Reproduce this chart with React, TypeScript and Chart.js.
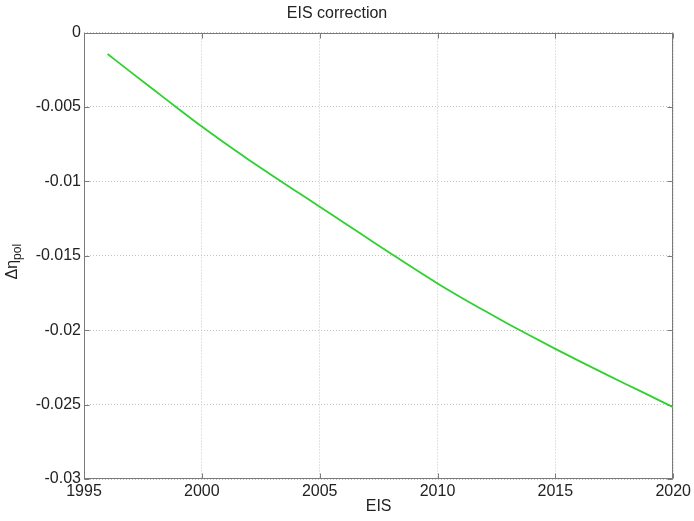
import { useEffect, useRef } from 'react';
import { Chart, registerables } from 'chart.js';

Chart.register(...registerables);

const chartTitle = 'EIS correction';
const xAxisTitle = 'EIS';
const yAxisMain = 'Δη';
const yAxisSub = 'pol';

const years = [
  1996, 1997, 1998, 1999, 2000, 2001, 2002, 2003, 2004, 2005, 2006, 2007, 2008,
  2009, 2010, 2011, 2012, 2013, 2014, 2015, 2016, 2017, 2018, 2019, 2020,
];
const deltaEtaPol = [
  -0.00144, -0.00268, -0.00390, -0.00512, -0.00632, -0.00746, -0.00856, -0.00963,
  -0.01067, -0.01170, -0.01275, -0.01379, -0.01483, -0.01586, -0.01686, -0.0178,
  -0.0187, -0.01958, -0.02043, -0.02126, -0.02206, -0.02285, -0.02363, -0.0244,
  -0.02518,
];

const xTicks = [1995, 2000, 2005, 2010, 2015, 2020];
const xTickLabels = ['1995', '2000', '2005', '2010', '2015', '2020'];
const yTicks = [-0.03, -0.025, -0.02, -0.015, -0.01, -0.005, 0];
const yTickLabels = ['-0.03', '-0.025', '-0.02', '-0.015', '-0.01', '-0.005', '0'];

const FONT = '"Liberation Sans", Arial, Helvetica, sans-serif';
const TEXT = '#222222';

const boxPlugin = {
  id: 'matlabBox',
  beforeDatasetsDraw(chart: any) {
    const { ctx, chartArea, scales } = chart;
    const { left, right, top, bottom } = chartArea;
    const L = Math.round(left) + 0.5;
    const R = Math.round(right) - 0.5;
    const T = Math.round(top) + 0.5;
    const B = Math.round(bottom) - 0.5;
    ctx.save();
    ctx.strokeStyle = '#7a7a7a';
    ctx.lineWidth = 1;
    ctx.setLineDash([]);
    ctx.strokeRect(L, T, R - L, B - T);
    const len = 5;
    ctx.beginPath();
    for (const v of xTicks) {
      const px = Math.round(scales.x.getPixelForValue(v)) + 0.5;
      ctx.moveTo(px, B);
      ctx.lineTo(px, B - len);
      ctx.moveTo(px, T);
      ctx.lineTo(px, T + len);
    }
    for (const v of yTicks) {
      const py = Math.round(scales.y.getPixelForValue(v)) + 0.5;
      ctx.moveTo(L, py);
      ctx.lineTo(L + len, py);
      ctx.moveTo(R, py);
      ctx.lineTo(R - len, py);
    }
    ctx.stroke();
    ctx.restore();
  },
};

const yLabelPlugin = {
  id: 'yLabelSub',
  afterDraw(chart: any) {
    const { ctx, chartArea } = chart;
    const cy = (chartArea.top + chartArea.bottom) / 2 + 6;
    ctx.save();
    ctx.fillStyle = TEXT;
    ctx.textBaseline = 'alphabetic';
    ctx.textAlign = 'left';
    ctx.font = `16px ${FONT}`;
    const w1 = ctx.measureText(yAxisMain).width;
    ctx.font = `12px ${FONT}`;
    const w2 = ctx.measureText(yAxisSub).width;
    const total = w1 + w2;
    ctx.translate(17, cy);
    ctx.rotate(-Math.PI / 2);
    ctx.font = `16px ${FONT}`;
    ctx.fillText(yAxisMain, -total / 2, 0);
    ctx.font = `12px ${FONT}`;
    ctx.fillText(yAxisSub, -total / 2 + w1, 3.5);
    ctx.restore();
  },
};

export default function App() {
  const canvasRef = useRef<HTMLCanvasElement | null>(null);

  useEffect(() => {
    if (!canvasRef.current) return;
    const chart = new Chart(canvasRef.current, {
      type: 'line',
      data: {
        datasets: [
          {
            data: years.map((y, i) => ({ x: y, y: deltaEtaPol[i] })),
            borderColor: 'rgb(45, 210, 45)',
            borderWidth: 1.8,
            pointRadius: 0,
            fill: false,
            cubicInterpolationMode: 'monotone',
          },
        ],
      },
      options: {
        animation: false,
        responsive: false,
        devicePixelRatio: 1,
        layout: { padding: { left: 0, right: 20, top: 0, bottom: 0 } },
        plugins: {
          legend: { display: false },
          tooltip: { enabled: false },
          title: {
            display: true,
            text: chartTitle,
            color: TEXT,
            font: { family: FONT, size: 16, weight: 'normal' },
            padding: { top: 4, bottom: 9.3 },
          },
        },
        scales: {
          x: {
            type: 'linear',
            min: 1995,
            max: 2020,
            afterBuildTicks: (s: any) => {
              s.ticks = xTicks.map((v) => ({ value: v }));
            },
            afterFit: (s: any) => {
              s.height = 42;
            },
            ticks: {
              autoSkip: false,
              maxRotation: 0,
              padding: 3,
              color: TEXT,
              font: { family: FONT, size: 16 },
              callback: (v: any) => {
                const i = xTicks.indexOf(Number(v));
                return i >= 0 ? xTickLabels[i] : '';
              },
            },
            grid: { color: '#c4c4c4', lineWidth: 1, drawTicks: false },
            border: { display: false, dash: [1, 2] },
            title: {
              display: true,
              text: xAxisTitle,
              color: TEXT,
              font: { family: FONT, size: 16 },
              padding: { top: 0, bottom: 5 },
            },
          },
          y: {
            type: 'linear',
            min: -0.03,
            max: 0,
            afterBuildTicks: (s: any) => {
              s.ticks = yTicks.map((v) => ({ value: v }));
            },
            afterFit: (s: any) => {
              s.width = 84;
            },
            ticks: {
              autoSkip: false,
              padding: 3,
              color: TEXT,
              font: { family: FONT, size: 16 },
              callback: (v: any) => {
                const n = Number(v);
                const i = yTicks.findIndex((t) => Math.abs(t - n) < 1e-9);
                return i >= 0 ? yTickLabels[i] : '';
              },
            },
            grid: { color: '#c4c4c4', lineWidth: 1, drawTicks: false },
            border: { display: false, dash: [1, 2] },
          },
        },
      },
      plugins: [boxPlugin, yLabelPlugin],
    } as any);
    return () => chart.destroy();
  }, []);

  return (
    <div style={{ position: 'absolute', left: 0, top: 0, width: 694, height: 521, background: '#fff' }}>
      <canvas ref={canvasRef} width={694} height={521} style={{ width: 694, height: 521 }} />
    </div>
  );
}
